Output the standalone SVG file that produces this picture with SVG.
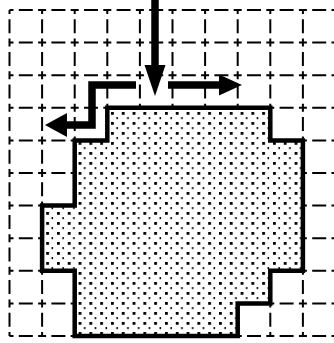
<svg xmlns="http://www.w3.org/2000/svg" width="334" height="343" viewBox="0 0 334 343">
<style>
.g{stroke:#000;stroke-width:2;stroke-dasharray:4 5.3 14 5.3 4 0;fill:none}
.b{stroke:#000;stroke-width:4.5;fill:none;stroke-linejoin:miter}
.sh{stroke:#000;stroke-width:7.5;fill:none;stroke-linejoin:miter}
.hd{fill:#000}
</style>
<defs>
<pattern id="dots" width="10.8" height="10" patternUnits="userSpaceOnUse" x="2" y="1">
<rect x="1" y="1" width="2.8" height="2.8" fill="#000"/>
<rect x="6.4" y="6" width="1.5" height="2.2" fill="#000"/>
</pattern>
</defs>
<rect width="334" height="343" fill="#fff"/>
<g id="grid">
<path class="g" d="M9.5 10V336M42.1 10V336M74.7 10V336M107.3 10V336M139.9 10V336M172.5 10V336M205.1 10V336M237.7 10V336M270.3 10V336M302.9 10V336"/>
<path class="g" d="M9.5 10H336M9.5 42.6H336M9.5 75.2H336M9.5 107.8H336M9.5 140.4H336M9.5 173H336M9.5 205.6H336M9.5 238.2H336M9.5 270.8H336M9.5 303.4H336M9.5 336H336"/>
</g>
<g id="region">
<path d="M107.3 107.8H270.3V140.4H302.9V270.8H270.3V303.4H237.7V336H74.7V270.8H42.1V205.6H74.7V140.4H107.3Z" fill="#fff"/>
<path d="M107.3 107.8H270.3V140.4H302.9V270.8H270.3V303.4H237.7V336H74.7V270.8H42.1V205.6H74.7V140.4H107.3Z" fill="url(#dots)"/>
<path class="b" d="M107.3 107.8H270.3V140.4H302.9V270.8H270.3V303.4H237.7V336H74.7V270.8H42.1V205.6H74.7V140.4H107.3Z"/>
</g>
<g id="connectors">
<g id="arrow-down">
<path class="sh" d="M155 0V70"/>
<polygon class="hd" points="144.5,65 165.5,65 155,96"/>
</g>
<g id="arrow-right">
<path class="sh" d="M168 85H222"/>
<polygon class="hd" points="219,74.5 219,95.5 242,85"/>
</g>
<g id="arrow-left">
<path class="sh" d="M136 85H92V125H64"/>
<polygon class="hd" points="67,113 67,137 45,125"/>
</g>
</g>
</svg>
